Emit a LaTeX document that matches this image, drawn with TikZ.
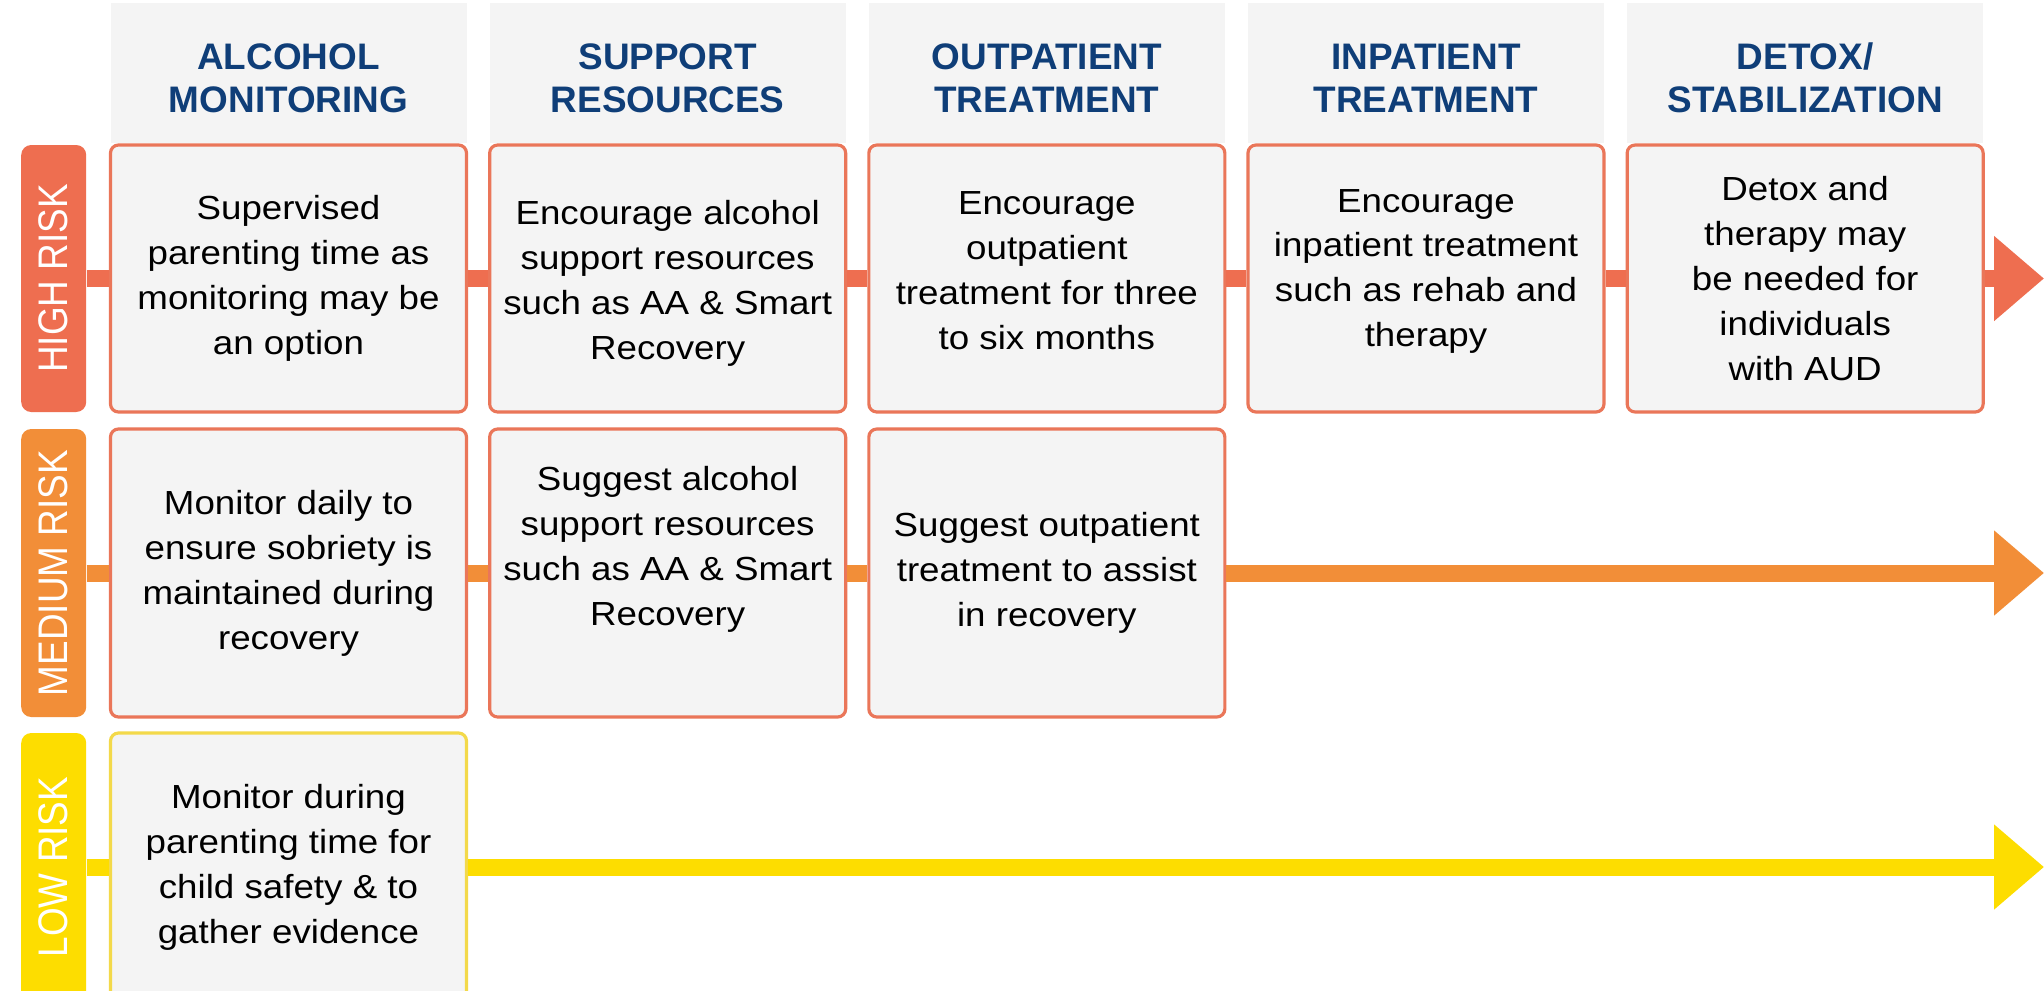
\documentclass[tikz,border=0pt]{standalone}
\usepackage{fontspec}
\setmainfont{Liberation Sans}
\newfontfamily\bodyfont{Liberation Sans}[FakeStretch=1.1]
\usepackage{xcolor}
\usepackage{graphicx}
\usepackage{tikz}
\usetikzlibrary{arrows.meta,positioning,calc}
\definecolor{rkhigh}{HTML}{EE6E50}
\definecolor{rkmed}{HTML}{F28E38}
\definecolor{rklow}{HTML}{FDDD00}
\definecolor{rkedge}{HTML}{EA7659}
\definecolor{rklowedge}{HTML}{F3D94A}
\definecolor{rknavy}{HTML}{0F3E78}
\definecolor{rkbox}{HTML}{F4F4F4}
\newcommand{\risktext}[1]{\rotatebox{90}{\scalebox{1}[1.12]{#1}}}
\newcommand{\hdstrut}{\rule{0pt}{10.6pt}}

\begin{document}
\begin{tikzpicture}[
      node distance=0.2cm,
      box/.style={rounded corners=0.8mm,draw,line width=0.9pt,minimum width=3.56cm,
                  align=center,fill=rkbox,inner sep=0pt,
                  font=\bodyfont\fontsize{9.5pt}{12.8pt}\selectfont},
      hdr/.style={fill=rkbox,minimum width=3.56cm,minimum height=1.40cm,align=center,
                  inner sep=0pt,text=rknavy,font=\fontsize{10.5pt}{12.2pt}\selectfont\bfseries},
      risk/.style={rounded corners=1mm,minimum width=0.65cm,inner sep=0pt,text=white,
                  font=\fontsize{10.5pt}{12pt}\selectfont},
      link/.style={line width=1.7mm},
      arr/.style={-{Triangle[length=5mm,width=8.2mm]},line width=1.7mm}]
    \useasboundingbox (0,0) rectangle (20.44,-9.90);
    \clip (0,0) rectangle (20.44,-9.90);
    \fill[white] (0,0) rectangle (20.44,-9.90);
    % high risk row
    \node[box,draw=rkedge,minimum height=2.67cm] (h1) at (2.885,-2.785)
      {Supervised\\parenting time as\\monitoring may be\\an option};
    \node[box,draw=rkedge,minimum height=2.67cm,right=of h1] (h2)
      {\rule{0pt}{0.345cm}Encourage alcohol\\support resources\\such as AA \& Smart\\Recovery};
    \node[box,draw=rkedge,minimum height=2.67cm,right=of h2] (h3)
      {Encourage\\outpatient\\treatment for three\\to six months\rule[-0.16cm]{0pt}{0pt}};
    \node[box,draw=rkedge,minimum height=2.67cm,right=of h3] (h4)
      {Encourage\\inpatient treatment\\such as rehab and\\therapy\rule[-0.21cm]{0pt}{0pt}};
    \node[box,draw=rkedge,minimum height=2.67cm,right=of h4] (h5)
      {Detox and\\therapy may\\be needed for\\individuals\\with AUD};
    % column heads
    \node[hdr,above=0pt of h1] (c1) {\hdstrut ALCOHOL\\MONITORING};
    \node[hdr,above=0pt of h2] (c2) {\hdstrut SUPPORT\\RESOURCES};
    \node[hdr,above=0pt of h3] (c3) {\hdstrut OUTPATIENT\\TREATMENT};
    \node[hdr,above=0pt of h4] (c4) {\hdstrut INPATIENT\\TREATMENT};
    \node[hdr,above=0pt of h5] (c5) {\hdstrut DETOX/\\STABILIZATION};
    % medium risk row
    \node[box,draw=rkedge,minimum height=2.88cm] (m1) at (2.885,-5.73)
      {Monitor daily to\\ensure sobriety is\\maintained during\\recovery};
    \node[box,draw=rkedge,minimum height=2.88cm,right=of m1] (m2)
      {Suggest alcohol\\support resources\\such as AA \& Smart\\Recovery\\[0.09cm]\mbox{}};
    \node[box,draw=rkedge,minimum height=2.88cm,right=of m2] (m3)
      {Suggest outpatient\\treatment to assist\\in recovery};
    % low risk row
    \node[box,draw=rklowedge,minimum height=2.68cm] (l1) at (2.885,-8.67)
      {Monitor during\\parenting time for\\child safety \& to\\gather evidence};
    % risk labels
    \node[risk,fill=rkhigh,minimum height=2.67cm,left=0.22cm of h1] (hr) {\risktext{HIGH RISK}};
    \node[risk,fill=rkmed,minimum height=2.88cm,left=0.22cm of m1] (mr) {\risktext{MEDIUM RISK}};
    \node[risk,fill=rklow,minimum height=2.68cm,left=0.22cm of l1] (lr) {\risktext{LOW RISK}};
    \coordinate (hend) at (20.44,-2.785);
    \coordinate (mend) at (20.44,-5.73);
    \coordinate (lend) at (20.44,-8.67);
    \draw[link,rkhigh] (hr) -- (h1); \draw[link,rkhigh] (h1) -- (h2); \draw[link,rkhigh] (h2) -- (h3);
    \draw[link,rkhigh] (h3) -- (h4); \draw[link,rkhigh] (h4) -- (h5); \draw[arr,rkhigh] (h5) -- (hend);
    \draw[link,rkmed] (mr) -- (m1); \draw[link,rkmed] (m1) -- (m2); \draw[link,rkmed] (m2) -- (m3);
    \draw[arr,rkmed] (m3) -- (mend);
    \draw[link,rklow] (lr) -- (l1); \draw[arr,rklow] (l1) -- (lend);
  \end{tikzpicture}
\end{document}
